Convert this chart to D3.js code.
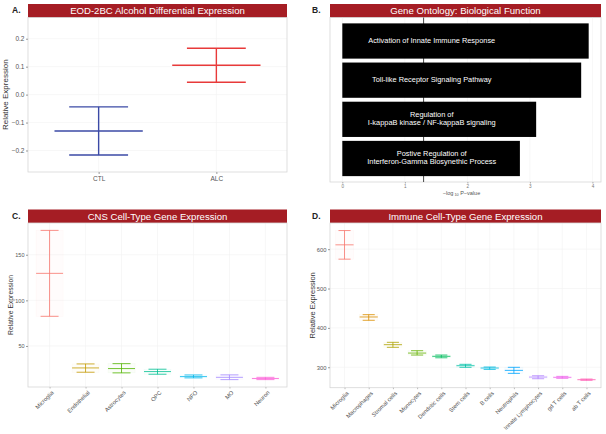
<!DOCTYPE html>
<html><head><meta charset="utf-8">
<script src="https://cdn.jsdelivr.net/npm/d3@7"></script>
<style>body{margin:0;background:#fff} svg{display:block;font-family:"Liberation Sans",Arial,sans-serif}</style>
</head><body><svg width="606" height="434"></svg>
<script>
// ---- Panel A data
const groupsA = ["CTL", "ALC"];
const meanA = [-0.130, 0.105];
const upperA = [-0.044, 0.166];
const lowerA = [-0.216, 0.044];
const yTicksA = [-0.2, -0.1, 0.0, 0.1, 0.2];
const colorsA = ["#3b4aa6", "#e83a3a"];

// ---- Panel B data
const goTerms = [
  ["Activation of Innate Immune Response"],
  ["Toll-like Receptor Signaling Pathway"],
  ["Regulation of", "I-kappaB kinase  / NF-kappaB signaling"],
  ["Postive Regulation of", "Interferon-Gamma Biosynethic Process"]
];
const goValues = [3.94, 3.82, 3.10, 2.84];
const xTicksB = [0, 1, 2, 3, 4];
const sigThreshold = 1.30;

// ---- Panel C data
const cnsCells = ["Microglia", "Endothelial", "Astrocytes", "OPC", "NFO", "MO", "Neuron"];
const cnsMean  = [129.6, 25.9, 25.2, 21.9, 16.4, 15.6, 14.3];
const cnsUpper = [176.7, 30.3, 30.6, 24.5, 18.2, 18.3, 15.6];
const cnsLower = [82.5, 21.2, 20.5, 19.0, 15.0, 13.1, 13.1];
const yTicksC = [50, 100, 150];

// ---- Panel D data
const immCells = ["Microglia", "Macrophages", "Stromal cells", "Monocytes", "Dendritic cells", "Stem cells", "B cells", "Neutrophils", "Innate Lymphocytes", "gd T cells", "ab T cells"];
const immMean  = [611.0, 427.7, 357.3, 336.0, 327.7, 303.9, 298.0, 292.0, 275.0, 274.3, 268.4];
const immUpper = [647.3, 433.6, 363.3, 342.0, 331.0, 307.4, 300.5, 299.8, 278.4, 276.8, 270.0];
const immLower = [574.6, 419.3, 350.6, 331.0, 324.0, 299.8, 294.5, 284.4, 270.8, 271.8, 266.7];
const yTicksD = [300, 400, 500, 600];

const hue7 = ["#F8766D", "#C49A00", "#53B400", "#00C094", "#00B6EB", "#A58AFF", "#FB61D7"];
const hue11 = ["#F8766D", "#DB8E00", "#AEA200", "#64B200", "#00BD5C", "#00C1A7", "#00BADE", "#00A6FF", "#B385FF", "#EF67EB", "#FF63B6"];

const svg = d3.select("svg");
const TITLE_FILL = "#a51d24";
const GRID = "#f2f2f2";
const TXT = "#555";

function frame(p) {
  svg.append("rect").attr("x", p.x0).attr("y", p.ty).attr("width", p.x1 - p.x0).attr("height", p.y0 - p.ty)
    .attr("fill", TITLE_FILL);
  svg.append("text").attr("x", (p.x0 + p.x1) / 2).attr("y", (p.ty + p.y0) / 2 + 3.3)
    .attr("text-anchor", "middle").attr("fill", "#fff").attr("font-size", 9.6).text(p.title);
  svg.append("text").attr("x", p.lx).attr("y", p.ty + 9).attr("font-size", 8.5)
    .attr("font-weight", "bold").attr("fill", "#222").text(p.label);
}
function border(p) {
  svg.append("rect").attr("x", p.x0).attr("y", p.y0).attr("width", p.x1 - p.x0).attr("height", p.y1 - p.y0)
    .attr("fill", "none").attr("stroke", "#d6d6d6").attr("stroke-width", 0.8);
}
function yAxis(p, y, ticks, fmt, fs, titleX, titleFs) {
  const g = svg.append("g").attr("transform", `translate(${p.x0},0)`)
    .call(d3.axisLeft(y).tickValues(ticks).tickFormat(fmt).tickSize(2).tickPadding(1.5));
  g.select(".domain").remove();
  g.selectAll("line").attr("stroke", "#999");
  g.selectAll("text").attr("fill", TXT).attr("font-size", fs).attr("font-family", "Liberation Sans, Arial");
  svg.append("text").attr("transform", `translate(${titleX},${(p.y0 + p.y1) / 2}) rotate(-90)`)
    .attr("text-anchor", "middle").attr("font-size", titleFs).attr("fill", "#333").text("Relative Expression");
}
function hGrid(p, y, ticks) {
  svg.append("g").selectAll("line").data(ticks).join("line")
    .attr("x1", p.x0).attr("x2", p.x1).attr("y1", d => y(d)).attr("y2", d => y(d))
    .attr("stroke", GRID).attr("stroke-width", 0.6);
}
function vGrid(p, xs) {
  svg.append("g").selectAll("line").data(xs).join("line")
    .attr("x1", d => d).attr("x2", d => d).attr("y1", p.y0).attr("y2", p.y1)
    .attr("stroke", GRID).attr("stroke-width", 0.6);
}
function errorMarks(g, cats, x, y, mean, up, lo, colors, sw, op, fillOp) {
  const step = x.step();
  cats.forEach((c, i) => {
    const cx = x(c);
    if (fillOp > 0) {
      g.append("rect").attr("x", cx - step * 0.375).attr("width", step * 0.75)
        .attr("y", y(up[i])).attr("height", y(lo[i]) - y(up[i]))
        .attr("fill", colors[i]).attr("fill-opacity", fillOp)
        .attr("stroke", colors[i]).attr("stroke-opacity", 0.06).attr("stroke-width", 0.5);
    }
    const s = g.append("g").attr("stroke", colors[i]).attr("stroke-width", sw).attr("stroke-opacity", op);
    s.append("line").attr("x1", cx).attr("x2", cx).attr("y1", y(up[i])).attr("y2", y(lo[i]));
    s.append("line").attr("x1", cx - step * 0.25).attr("x2", cx + step * 0.25).attr("y1", y(up[i])).attr("y2", y(up[i]));
    s.append("line").attr("x1", cx - step * 0.25).attr("x2", cx + step * 0.25).attr("y1", y(lo[i])).attr("y2", y(lo[i]));
    s.append("line").attr("x1", cx - step * 0.375).attr("x2", cx + step * 0.375).attr("y1", y(mean[i])).attr("y2", y(mean[i]));
  });
}

// ================= Panel A
{
  const p = {x0: 28, x1: 287, ty: 4, y0: 17.5, y1: 172, title: "EOD-2BC Alcohol Differential Expression", label: "A.", lx: 12};
  frame(p);
  const x = d3.scalePoint().domain(groupsA).range([p.x0, p.x1]).padding(0.6);
  const y = d3.scaleLinear().domain([-0.277, 0.276]).range([p.y1, p.y0]);
  hGrid(p, y, yTicksA);
  vGrid(p, groupsA.map(d => x(d)));
  border(p);
  errorMarks(svg.append("g"), groupsA, x, y, meanA, upperA, lowerA, colorsA, 1.4, 1, 0);
  yAxis(p, y, yTicksA, d => d === 0 ? "0.0" : d3.format(".1f")(d).replace("-", "\u2212"), 6.5, 7.5, 8);
  const gx = svg.append("g").attr("transform", `translate(0,${p.y1})`).call(d3.axisBottom(x).tickSize(2).tickPadding(2));
  gx.select(".domain").remove();
  gx.selectAll("line").attr("stroke", "#999");
  gx.selectAll("text").attr("fill", TXT).attr("font-size", 6.5).attr("font-family", "Liberation Sans, Arial");
}

// ================= Panel B
{
  const p = {x0: 330, x1: 601, ty: 4, y0: 17.5, y1: 182, title: "Gene Ontology: Biological Function", label: "B.", lx: 312};
  frame(p);
  const x = d3.scaleLinear().domain([-0.197, 4.137]).range([p.x0, p.x1]);
  const y = d3.scaleBand().domain(d3.range(goTerms.length)).range([p.y0, p.y1]).paddingInner(0.1).paddingOuter(0.15);
  svg.append("g").selectAll("line").data(xTicksB).join("line")
    .attr("x1", d => x(d)).attr("x2", d => x(d)).attr("y1", p.y0).attr("y2", p.y1).attr("stroke", GRID).attr("stroke-width", 0.6);
  border(p);
  svg.append("line").attr("x1", x(sigThreshold)).attr("x2", x(sigThreshold)).attr("y1", p.y0).attr("y2", p.y1)
    .attr("stroke", "#333").attr("stroke-width", 0.9);
  svg.append("g").selectAll("rect").data(goValues).join("rect")
    .attr("x", x(0)).attr("width", d => x(d) - x(0))
    .attr("y", (d, i) => y(i)).attr("height", y.bandwidth()).attr("fill", "#000");
  const labelX = x(1.43);
  goTerms.forEach((lines, i) => {
    const cy = y(i) + y.bandwidth() / 2 - 1;
    const lh = 7.8;
    const t = svg.append("text").attr("text-anchor", "middle").attr("fill", "#fff").attr("font-size", 7.4);
    lines.forEach((ln, j) => {
      t.append("tspan").attr("x", labelX).attr("y", cy + (j - (lines.length - 1) / 2) * lh + 2.6).text(ln);
    });
  });
  const gx = svg.append("g").attr("transform", `translate(0,${p.y1})`)
    .call(d3.axisBottom(x).tickValues(xTicksB).tickFormat(d3.format("d")).tickSize(1.5).tickPadding(1));
  gx.select(".domain").remove();
  gx.selectAll("line").attr("stroke", "#aaa");
  gx.selectAll("text").attr("fill", "#777").attr("font-size", 4.6).attr("font-family", "Liberation Sans, Arial");
  const at = svg.append("text").attr("x", (p.x0 + p.x1) / 2 - 4).attr("y", 194.5).attr("text-anchor", "middle")
    .attr("font-size", 5.5).attr("fill", "#555");
  at.append("tspan").text("\u2212log");
  at.append("tspan").attr("font-size", 3.8).attr("dy", 1.5).text(" 10");
  at.append("tspan").attr("dy", -1.5).text(" P\u2212value");
}

// ================= Panel C
{
  const p = {x0: 28, x1: 287, ty: 209.5, y0: 223, y1: 387, title: "CNS Cell-Type Gene Expression", label: "C.", lx: 12};
  frame(p);
  const x = d3.scalePoint().domain(cnsCells).range([p.x0, p.x1]).padding(0.6);
  const y = d3.scaleLinear().domain([5, 184.8]).range([p.y1, p.y0]);
  hGrid(p, y, yTicksC);
  vGrid(p, cnsCells.map(d => x(d)));
  border(p);
  errorMarks(svg.append("g"), cnsCells, x, y, cnsMean, cnsUpper, cnsLower, hue7, 1, 0.8, 0.025);
  yAxis(p, y, yTicksC, d3.format("d"), 5.5, 13, 6.8);
  const gx = svg.append("g").attr("transform", `translate(0,${p.y1})`).call(d3.axisBottom(x).tickSize(1.5).tickPadding(0));
  gx.select(".domain").remove();
  gx.selectAll("line").attr("stroke", "#bbb");
  gx.selectAll("text").attr("fill", TXT).attr("font-size", 5.8).attr("font-family", "Liberation Sans, Arial")
    .attr("text-anchor", "end").attr("dy", 0).attr("transform", "translate(3,5) rotate(-45)");
}

// ================= Panel D
{
  const p = {x0: 330, x1: 601, ty: 209.5, y0: 223, y1: 387.7, title: "Immune Cell-Type Gene Expression", label: "D.", lx: 312};
  frame(p);
  const x = d3.scalePoint().domain(immCells).range([p.x0, p.x1]).padding(0.6);
  const y = d3.scaleLinear().domain([248, 666.5]).range([p.y1, p.y0]);
  hGrid(p, y, yTicksD);
  vGrid(p, immCells.map(d => x(d)));
  border(p);
  errorMarks(svg.append("g"), immCells, x, y, immMean, immUpper, immLower, hue11, 1, 0.8, 0.025);
  yAxis(p, y, yTicksD, d3.format("d"), 5.8, 315, 7.5);
  const gx = svg.append("g").attr("transform", `translate(0,${p.y1})`).call(d3.axisBottom(x).tickSize(1.5).tickPadding(0));
  gx.select(".domain").remove();
  gx.selectAll("line").attr("stroke", "#bbb");
  gx.selectAll("text").attr("fill", TXT).attr("font-size", 5.8).attr("font-family", "Liberation Sans, Arial")
    .attr("text-anchor", "end").attr("dy", 0).attr("transform", "translate(3,5) rotate(-45)");
}
</script></body></html>
